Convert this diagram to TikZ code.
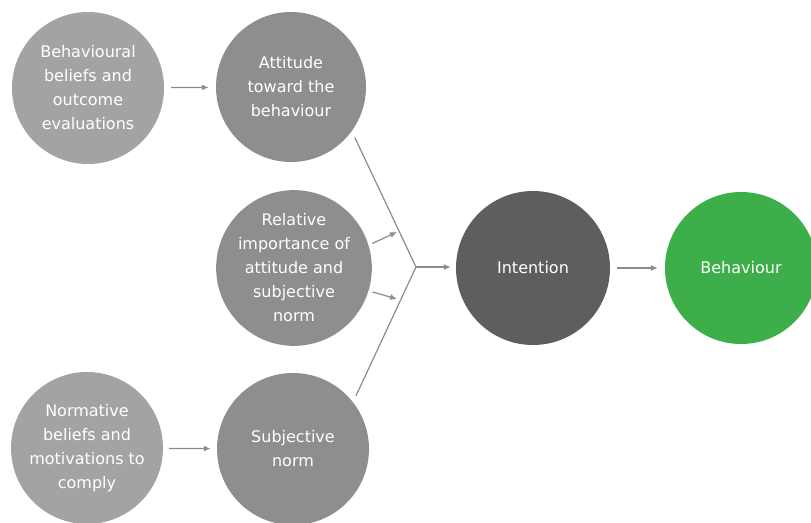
\documentclass[tikz,border=0pt]{standalone}
\usepackage{fontspec}
\setmainfont{DejaVu Sans}
\usetikzlibrary{arrows.meta}
\definecolor{lightg}{HTML}{A3A3A3}
\definecolor{midg}{HTML}{8E8E8E}
\definecolor{darkg}{HTML}{5E5E5E}
\definecolor{greenb}{HTML}{3DAF4A}
\definecolor{lineg}{HTML}{8C8C8C}
\begin{document}
\begin{tikzpicture}[x=1pt,y=-1pt,
  bubble/.style={circle, inner sep=0pt, text=white, align=center,
    font=\fontsize{16}{24}\selectfont},
  lightbub/.style={bubble, fill=lightg, minimum size=152pt},
  midbub/.style={bubble, fill=midg, minimum size=150pt},
  darkbub/.style={bubble, fill=darkg, minimum size=154pt},
  greenbub/.style={bubble, fill=greenb, minimum size=152pt},
  conn/.style={draw=lineg, line width=1.2pt},
  arr/.style={conn, -{Latex[length=7pt,width=6pt]}}
]
\useasboundingbox (0,0) rectangle (811,522);
\node[lightbub] (bb) at (88,88) {Behavioural\\beliefs and\\outcome\\evaluations};
\node[midbub] (att) at (291,87) {Attitude\\toward the\\behaviour};
\node[midbub, minimum size=154pt] (rel) at (294,268) {Relative\\importance of\\attitude and\\subjective\\norm};
\node[lightbub] (nb) at (87,448) {Normative\\beliefs and\\motivations to\\comply};
\node[midbub, minimum size=152pt] (sub) at (293,449) {Subjective\\norm};
\node[darkbub] (int) at (533,268) {Intention};
\node[greenbub] (beh) at (741,268) {Behaviour};

\coordinate (v) at (416,267);
\coordinate (ru) at (397,232);
\coordinate (rd) at (397,299);

\draw[arr, shorten <=7pt, shorten >=7pt] (bb) -- (att);
\draw[arr, shorten <=6pt, shorten >=6pt] (nb) -- (sub);
\draw[conn, shorten <=7pt] (att.-36) -- (v);
\draw[conn, shorten <=7pt] (sub.38) -- (v);
\draw[arr, shorten <=4pt] (rel.17) -- (ru);
\draw[arr, shorten <=4pt] (rel.-17) -- (rd);
\draw[arr, shorten >=5pt] (v) -- (v -| int.west);
\draw[arr, shorten <=7pt, shorten >=7pt] (int) -- (beh);
\end{tikzpicture}
\end{document}
